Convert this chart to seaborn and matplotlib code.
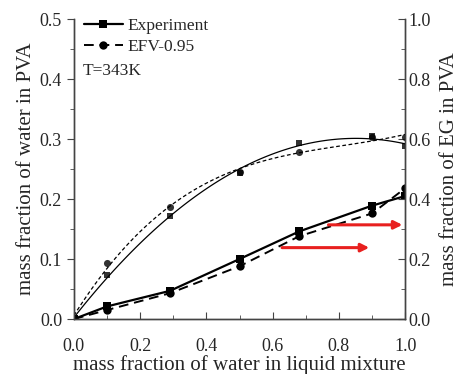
import numpy as np
import pandas as pd
import matplotlib
matplotlib.use("Agg")
import matplotlib.pyplot as plt
import seaborn as sns
from matplotlib.ticker import MultipleLocator

sns.set_style("ticks")
plt.rcParams['font.family'] = ['Liberation Serif', 'DejaVu Serif']
plt.rcParams['mathtext.fontset'] = 'stix'

# data
x_water = [0.0, 0.1, 0.29, 0.5, 0.68, 0.9, 1.0]
# water in PVA (left axis)
water_exp = [0.0, 0.021, 0.047, 0.100, 0.146, 0.189, 0.205]
water_efv = [0.0, 0.015, 0.043, 0.088, 0.138, 0.176, 0.218]
# EG in PVA (right axis)
eg_exp = [0.0, 0.146, 0.344, 0.486, 0.586, 0.610, 0.576]
eg_efv = [0.0, 0.188, 0.374, 0.490, 0.556, 0.608, 0.606]

legend_labels = ["Experiment", "EFV-0.95"]
temp_label = "T=343K"

df = pd.DataFrame({"x": x_water, "water_exp": water_exp, "water_efv": water_efv,
                   "eg_exp": eg_exp, "eg_efv": eg_efv})

fig = plt.figure(figsize=(4.62, 3.74), dpi=100)
ax = fig.add_axes([0.16, 0.147, 0.717, 0.802])
ax2 = ax.twinx()

spine_c = '#444444'
# lower curves (left axis)
sns.lineplot(data=df, x="x", y="water_exp", ax=ax, color='black', lw=1.6,
             marker='s', markersize=6, markeredgewidth=0, label=legend_labels[0])
sns.lineplot(data=df, x="x", y="water_efv", ax=ax, color='black', lw=1.4,
             linestyle=(0, (5, 3)), marker='o', markersize=6, markeredgewidth=0,
             label=legend_labels[1])

# upper curves (right axis) with smooth fits
sns.regplot(data=df, x="x", y="eg_exp", ax=ax2, order=2, ci=None, truncate=True,
            marker='s', scatter_kws=dict(s=22, color='black', linewidths=0),
            line_kws=dict(color='black', lw=0.9))
sns.regplot(data=df, x="x", y="eg_efv", ax=ax2, order=3, ci=None, truncate=True,
            marker='o', scatter_kws=dict(s=26, color='black', linewidths=0),
            line_kws=dict(color='black', lw=0.9, linestyle=(0, (3, 2))))

ax.set_xlim(0, 1.0)
ax.set_ylim(0, 0.5)
ax2.set_ylim(0, 1.0)
ax.xaxis.set_major_locator(MultipleLocator(0.2))
ax.xaxis.set_minor_locator(MultipleLocator(0.1))
ax.yaxis.set_major_locator(MultipleLocator(0.1))
ax.yaxis.set_minor_locator(MultipleLocator(0.05))
ax2.yaxis.set_major_locator(MultipleLocator(0.2))
ax2.yaxis.set_minor_locator(MultipleLocator(0.1))
ax.xaxis.set_major_formatter(plt.FuncFormatter(lambda v, p: f"{v:.1f}"))
ax.yaxis.set_major_formatter(plt.FuncFormatter(lambda v, p: f"{v:.1f}"))
ax2.yaxis.set_major_formatter(plt.FuncFormatter(lambda v, p: f"{v:.1f}"))

ax.tick_params(axis='x', which='both', direction='in', labelsize=13, color=spine_c, pad=14)
ax.tick_params(axis='x', which='major', length=5)
ax.tick_params(axis='x', which='minor', length=3)
ax.tick_params(axis='y', which='both', direction='out', labelsize=13, color=spine_c)
ax.tick_params(axis='y', which='major', length=5)
ax.tick_params(axis='y', which='minor', length=3)
ax2.tick_params(axis='y', which='both', direction='in', labelsize=13, color=spine_c, pad=2)
ax2.tick_params(axis='y', which='major', length=5)
ax2.tick_params(axis='y', which='minor', length=3)

for a in (ax, ax2):
    a.spines['top'].set_visible(False)
    for s in ('left', 'right', 'bottom'):
        a.spines[s].set_color(spine_c)
        a.spines[s].set_linewidth(1.0)
ax2.spines['right'].set_visible(True)

ax.set_xlabel("mass fraction of water in liquid mixture", fontsize=15, labelpad=0)
ax.set_ylabel("mass fraction of water in PVA", fontsize=15, labelpad=3)
ax2.set_ylabel("mass fraction of EG in PVA", fontsize=15, labelpad=7)

leg = ax.legend(loc='upper left', frameon=False, fontsize=12.5, handlelength=2.2,
                borderaxespad=0.2, handletextpad=0.3, labelspacing=0.3,
                bbox_to_anchor=(0.0, 1.04))
ax.text(0.025, 0.413, temp_label, fontsize=12.5, transform=ax.transData, va='center')

# red arrows
ax.annotate("", xy=(1.0, 0.157), xytext=(0.76, 0.157),
            arrowprops=dict(arrowstyle='-|>', color='#e8201f', lw=2.2, mutation_scale=12))
ax.annotate("", xy=(0.9, 0.119), xytext=(0.62, 0.119),
            arrowprops=dict(arrowstyle='-|>', color='#e8201f', lw=2.2, mutation_scale=12))

fig.savefig("out.png", dpi=100)
